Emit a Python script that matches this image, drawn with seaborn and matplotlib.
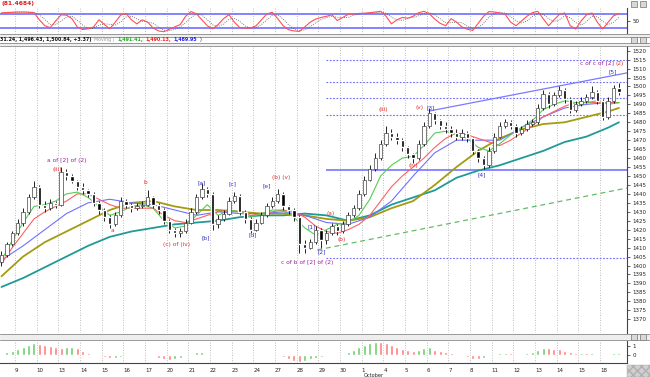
import numpy as np
import pandas as pd
import matplotlib
matplotlib.use("Agg")
import matplotlib.pyplot as plt
import seaborn as sns
from matplotlib.patches import Rectangle
from matplotlib.lines import Line2D

# trading days shown on the x axis (Sep 9 .. Oct 18), 4 bars per day
day_labels = ["9", "10", "13", "14", "15", "16", "17", "20", "21", "22", "23", "24",
              "27", "28", "29", "30", "1", "4", "5", "6", "7", "8", "11", "12",
              "13", "14", "15", "18"]
bars_per_day = 4
first_day_bar = 3

first_open = 1402
closes = [1406, 1412, 1418, 1424, 1430, 1438, 1444, 1434, 1432, 1435,
          1434, 1452, 1450, 1447, 1444, 1442, 1440, 1435, 1431, 1427,
          1423, 1428, 1436, 1434, 1432, 1433, 1434, 1438, 1434, 1431,
          1425, 1420, 1418, 1419, 1424, 1430, 1438, 1443, 1440, 1423,
          1426, 1429, 1436, 1439, 1430, 1426, 1420, 1424, 1428, 1433,
          1436, 1440, 1433, 1431, 1427, 1412, 1410, 1413, 1420, 1414,
          1418, 1422, 1419, 1423, 1428, 1432, 1440, 1448, 1454, 1460,
          1468, 1474, 1472, 1470, 1466, 1462, 1460, 1468, 1478, 1485,
          1481, 1478, 1476, 1474, 1472, 1474, 1471, 1464, 1460, 1456,
          1464, 1472, 1478, 1480, 1478, 1474, 1476, 1479, 1480, 1488,
          1496, 1490, 1495, 1498, 1493, 1487, 1490, 1492, 1494, 1497,
          1492, 1483, 1492, 1499, 1497]
highs = [1408, 1413, 1419, 1426, 1432, 1440, 1447, 1445, 1436, 1437,
         1436, 1455, 1454, 1451, 1448, 1446, 1443, 1441, 1436, 1432,
         1428, 1430, 1438, 1437, 1435, 1435, 1436, 1442, 1439, 1435,
         1432, 1426, 1421, 1421, 1426, 1432, 1440, 1446, 1444, 1441,
         1428, 1431, 1438, 1441, 1440, 1431, 1427, 1426, 1430, 1435,
         1438, 1443, 1441, 1434, 1432, 1428, 1414, 1415, 1422, 1421,
         1420, 1424, 1423, 1425, 1430, 1434, 1442, 1450, 1456, 1463,
         1470, 1478, 1476, 1474, 1471, 1467, 1463, 1470, 1480, 1488,
         1486, 1482, 1480, 1478, 1476, 1476, 1475, 1472, 1465, 1461,
         1466, 1474, 1480, 1482, 1481, 1479, 1478, 1481, 1482, 1490,
         1498, 1497, 1497, 1500, 1499, 1494, 1492, 1494, 1496, 1500,
         1498, 1493, 1494, 1501, 1502]
lows = [1400, 1405, 1411, 1417, 1422, 1429, 1437, 1432, 1430, 1431,
        1432, 1433, 1448, 1446, 1442, 1440, 1438, 1433, 1429, 1425,
        1421, 1422, 1427, 1432, 1430, 1431, 1432, 1433, 1432, 1429,
        1423, 1418, 1416, 1416, 1418, 1423, 1429, 1437, 1438, 1420,
        1421, 1425, 1428, 1435, 1428, 1424, 1418, 1419, 1423, 1427,
        1432, 1435, 1431, 1429, 1425, 1407, 1407, 1409, 1412, 1410,
        1412, 1417, 1417, 1418, 1422, 1427, 1431, 1439, 1447, 1453,
        1459, 1467, 1470, 1468, 1464, 1460, 1457, 1459, 1467, 1477,
        1479, 1476, 1474, 1472, 1470, 1470, 1469, 1462, 1458, 1454,
        1455, 1463, 1471, 1477, 1476, 1472, 1473, 1475, 1478, 1479,
        1487, 1488, 1489, 1494, 1491, 1485, 1486, 1489, 1491, 1493,
        1490, 1481, 1482, 1491, 1495]

# moving averages
fast_bars = list(range(0, 115, 2))
ma_green = [1403, 1414, 1424, 1433, 1434, 1436, 1440, 1441, 1438, 1433,
            1428, 1430, 1433, 1434, 1432, 1425, 1421, 1422, 1428, 1434,
            1428, 1431, 1430, 1427, 1429, 1431, 1431, 1427, 1421, 1417,
            1420, 1423, 1424, 1428, 1437, 1450, 1456, 1460, 1461, 1467,
            1474, 1475, 1473, 1471, 1466, 1464, 1468, 1473, 1477, 1481,
            1487, 1490, 1492, 1491, 1491, 1492, 1490, 1491]
ma_red = [1401, 1410, 1418, 1426, 1430, 1433, 1436, 1440, 1440, 1437,
          1434, 1432, 1432, 1432, 1432, 1428, 1425, 1424, 1426, 1428,
          1430, 1431, 1430, 1428, 1429, 1430, 1431, 1430, 1427, 1422,
          1419, 1418, 1420, 1423, 1428, 1436, 1444, 1450, 1455, 1460,
          1466, 1471, 1474, 1473, 1471, 1469, 1467, 1470, 1474, 1478,
          1483, 1486, 1489, 1491, 1491, 1491, 1491, 1491]
slow_bars = list(range(0, 113, 4)) + [114]
ma_blue = [1403, 1411, 1420, 1429, 1435, 1437, 1435, 1434, 1431, 1428,
           1430, 1429, 1429, 1430, 1428, 1424, 1423, 1427, 1436, 1450,
           1463, 1470, 1470, 1470, 1477, 1483, 1488, 1490, 1491, 1491]
ma_olive = [1394, 1405, 1413, 1419, 1425, 1431, 1435, 1436, 1433, 1431,
            1431, 1430, 1429, 1429, 1428, 1426, 1425, 1427, 1432, 1436,
            1445, 1455, 1464, 1471, 1476, 1479, 1480, 1483, 1486, 1488]
ma_teal = [1388, 1393, 1399, 1405, 1411, 1416, 1419, 1421, 1423, 1424,
           1425, 1427, 1428, 1428, 1429, 1428, 1425, 1428, 1434, 1438,
           1442, 1449, 1453, 1456, 1460, 1464, 1469, 1472, 1477, 1480]

# stochastic %K (top panel)
osc = [84, 86, 87, 88, 88, 87, 85, 55, 30, 22,
       50, 76, 75, 60, 25, 14, 17, 25, 55, 35,
       17, 45, 75, 82, 55, 38, 55, 45, 20, 8,
       5, 15, 25, 35, 70, 90, 80, 55, 30, 17,
       35, 60, 77, 45, 22, 20, 20, 30, 55, 80,
       87, 60, 30, 13, 8, 6, 25, 45, 58, 65,
       70, 76, 52, 65, 78, 80, 82, 83, 85, 88,
       91, 70, 38, 55, 65, 62, 70, 85, 91, 80,
       58, 40, 30, 60, 45, 25, 15, 10, 40, 70,
       90, 88, 84, 78, 45, 30, 50, 70, 85, 91,
       60, 30, 55, 78, 84, 30, 16, 50, 76, 84,
       45, 16, 45, 72, 81]

# histogram (bottom panel)
hist = [0.1, 0.3, 0.5, 0.7, 0.9, 1.1, 1.3, 1.25, 1.1, 1.0,
        0.85, 0.8, 0.85, 0.9, 0.75, 0.45, 0.2, 0.05, 0.05, -0.2,
        -0.35, -0.3, -0.2, -0.1, -0.05, 0.05, 0.0, 0.05, 0.0, -0.3,
        -0.5, -0.55, -0.5, -0.35, -0.15, 0.15, 0.3, 0.3, 0.15, 0.0,
        -0.05, 0.05, 0.15, 0.05, -0.05, 0.0, -0.1, 0.0, 0.05, 0.15,
        0.1, 0.05, -0.2, -0.45, -0.7, -0.8, -0.7, -0.5, -0.35, -0.25,
        -0.1, 0.05, 0.1, 0.15, 0.35, 0.6, 0.85, 1.1, 1.3, 1.45,
        1.4, 1.3, 1.1, 0.9, 0.7, 0.55, 0.5, 0.6, 0.8, 0.85,
        0.6, 0.4, 0.3, 0.25, 0.15, 0.05, -0.2, -0.4, -0.45, -0.3,
        -0.1, 0.1, 0.2, 0.25, 0.2, 0.1, 0.1, 0.2, 0.35, 0.55,
        0.8, 0.75, 0.7, 0.65, 0.5, 0.3, 0.2, 0.25, 0.2, 0.25,
        0.1, -0.05, 0.1, 0.2, 0.25]

# horizontal levels, trendlines
levels = [1515, 1502.7, 1493.7, 1484, 1404]
support = 1453.4
level_start = 60
channel = ([79, 115.5], [1486.3, 1507.6])
trend = ([58.3, 115.5], [1408.7, 1443.3])

# wave labels: (text, bar, price, colour, alignment)
wave_labels = [
    ("a of [2] of (2)", 12.1, 1458.4, "#a020a0", "center"),
    ("(iii)", 10.3, 1453.4, "#e03030", "center"),
    ("a", 20.4, 1419.8, "#e03030", "center"),
    ("b", 26.5, 1446.6, "#e03030", "center"),
    ("(c) of (iv)", 32.4, 1411.5, "#e03030", "center"),
    ("[a]", 37.0, 1446.1, "#3030c0", "center"),
    ("[b]", 37.8, 1415.4, "#3030c0", "center"),
    ("[c]", 42.6, 1445.5, "#3030c0", "center"),
    ("[d]", 46.3, 1417.0, "#3030c0", "center"),
    ("[e]", 49.0, 1444.6, "#3030c0", "center"),
    ("(b) (v)", 51.6, 1449.2, "#e03030", "center"),
    ("c of b of [2] of (2)", 56.4, 1401.4, "#a020a0", "center"),
    ("[1]", 57.3, 1421.5, "#3030c0", "center"),
    ("[2]", 59.2, 1407.5, "#3030c0", "center"),
    ("(a)", 60.7, 1429.3, "#e03030", "center"),
    ("(b)", 62.9, 1414.8, "#e03030", "center"),
    ("(iii)", 70.4, 1486.9, "#e03030", "center"),
    ("(iv)", 76.0, 1455.6, "#e03030", "center"),
    ("(v)", 78.0, 1488.0, "#e03030", "right"),
    ("[3]", 78.4, 1488.0, "#3030c0", "left"),
    ("[4]", 88.7, 1450.6, "#3030c0", "center"),
    ("[5]", 112.9, 1508.1, "#3030c0", "center"),
    ("c of c of [2]", 113.1, 1513.1, "#a020a0", "right"),
    ("(2)", 113.4, 1513.1, "#e03030", "left"),
]

# header line of the price window: (text, colour, bold)
header_parts = [
    ("31.24, 1,496.43, 1,500.84, +3.37)", "#111111", True),
    ("Moving (", "#999999", False),
    ("1,491.41,", "#22aa22", True),
    ("1,490.13,", "#ee2222", True),
    ("1,489.95", "#2222ee", True),
    (")", "#111111", False),
]

sns.set_style("white")
plt.rcParams['font.family'] = ['DejaVu Sans', 'Liberation Sans']

W, H = 650, 377
fig = plt.figure(figsize=(6.5, 3.77), dpi=100)


def box(x0, y0, x1, y1):
    return [x0 / W, 1 - y1 / H, (x1 - x0) / W, (y1 - y0) / H]


ax_osc = fig.add_axes(box(0, 8, 627, 34))
ax = fig.add_axes(box(0, 46, 627, 333))
ax_h = fig.add_axes(box(0, 341, 627, 363))

xlim = (-0.27, 115.48)
day_x = [first_day_bar - 0.5 + bars_per_day * i for i in range(len(day_labels))]
grid_kw = dict(color="#a8a8a8", ls=(0, (1, 2)), lw=0.6, zorder=0)

for a in (ax_osc, ax, ax_h):
    a.set_xlim(*xlim)
    for d in day_x:
        a.axvline(d, **grid_kw)
    for s in ("left", "top", "bottom"):
        a.spines[s].set_visible(False)
    a.spines["right"].set_color("#444444")
    a.spines["right"].set_linewidth(0.8)
    a.yaxis.tick_right()
    a.tick_params(axis="y", labelsize=4, length=2, width=0.5, pad=2, colors="#222222")

# ---- main price panel ----
x = np.arange(len(closes))
c = np.array(closes, dtype=float)
o = np.array([first_open] + closes[:-1], dtype=float)
up = c >= o
ax.vlines(x, lows, highs, color="black", lw=0.6, zorder=3)
ax.bar(x[up], np.maximum(c - o, 0.4)[up], bottom=o[up], width=0.62,
       facecolor="white", edgecolor="#444444", lw=0.5, zorder=4)
ax.bar(x[~up], np.maximum(o - c, 0.4)[~up], bottom=c[~up], width=0.62,
       color="black", zorder=4)

sns.lineplot(x=slow_bars, y=ma_teal, color="#1f9a9a", lw=1.3, ax=ax, zorder=2)
sns.lineplot(x=slow_bars, y=ma_olive, color="#a39c10", lw=1.3, ax=ax, zorder=2)
sns.lineplot(x=slow_bars, y=ma_blue, color="#7070ff", lw=0.8, ax=ax, zorder=2)
sns.lineplot(x=fast_bars, y=ma_red, color="#ff6060", lw=0.8, ax=ax, zorder=2)
sns.lineplot(x=fast_bars, y=ma_green, color="#55cc55", lw=0.8, ax=ax, zorder=2)

for lv in levels:
    ax.hlines(lv, level_start, xlim[1], color="#6a6aff", lw=0.8, ls=(0, (1.5, 1.5)), zorder=1)
ax.hlines(support, level_start, xlim[1], color="#6a6aff", lw=1.1, zorder=1)
ax.plot(*channel, color="#7a7aff", lw=0.9, zorder=1)
ax.plot(*trend, color="#66bb66", lw=0.9, ls=(0, (4, 3)), zorder=1)

for txt, bx, py, col, ha in wave_labels:
    ax.text(bx, py, txt, color=col, fontsize=4.2, ha=ha, va="center", zorder=6)

ax.set_ylim(1362.3, 1522.6)
ax.set_yticks(range(1370, 1521, 5))
ax.set_xticks([])
ax.set_xlabel("")
ax.set_ylabel("")

# ---- oscillator panel ----
osc_x = np.arange(len(osc))
signal = pd.Series(osc).rolling(3, min_periods=1).mean()
ax_osc.axhline(80, color="#7a7aff", lw=1.3, zorder=1)
ax_osc.axhline(20, color="#7a7aff", lw=1.3, zorder=1)
sns.lineplot(x=osc_x, y=signal.values, color="#555555", lw=0.6, ls=":", ax=ax_osc, zorder=2)
sns.lineplot(x=osc_x, y=osc, color="#ff5050", lw=0.8, ax=ax_osc, zorder=3)
ax_osc.set_ylim(-5, 105)
ax_osc.set_yticks([50])
ax_osc.set_xticks([])
ax_osc.set_xlabel("")
ax_osc.set_ylabel("")

# ---- histogram panel ----
hx = np.arange(len(hist))
hv = np.array(hist)
hcol = ["#6fcf6f" if i == 0 or hv[i] >= hv[i - 1] else "#ff8080" for i in range(len(hv))]
ax_h.bar(hx, hv, width=0.55, color=hcol, zorder=2)
ax_h.set_ylim(-0.89, 1.56)
ax_h.set_yticks([0, 1])
ax_h.set_yticklabels(["0", "1"])
ax_h.spines["bottom"].set_visible(True)
ax_h.spines["bottom"].set_color("#444444")
ax_h.set_xticks(day_x)
ax_h.set_xticklabels(day_labels, ha="left")
ax_h.tick_params(axis="x", labelsize=4, length=3, width=0.5, pad=0.5, colors="#222222")
ax_h.set_xlabel("")
ax_h.set_ylabel("")
fig.text(364 / W, 1 - 375.5 / H, "October", fontsize=3.6, ha="left", va="center", color="#222222")

# ---- window chrome ----
for y0, y1 in [(34, 37), (43, 46), (334, 340)]:
    fig.add_artist(Rectangle((0, 1 - y1 / H), 1, (y1 - y0) / H, transform=fig.transFigure,
                             facecolor="#eeeeee", edgecolor="none"))
    for yy in (y0, y1):
        fig.add_artist(Line2D([0, 1], [1 - yy / H, 1 - yy / H], transform=fig.transFigure,
                              color="#8a8a8a", lw=0.6))
for yc in (4, 40, 337):
    for xc in (634, 643):
        fig.add_artist(Rectangle(((xc - 3) / W, 1 - (yc + 3) / H), 6 / W, 6 / H,
                                 transform=fig.transFigure, facecolor="#d8d8d8",
                                 edgecolor="#555555", lw=0.4))
fig.add_artist(Rectangle((627 / W, 0), 23 / W, 12 / H, transform=fig.transFigure,
                         facecolor="#d0d0d0", edgecolor="#b0b0b0", hatch="xxxx", lw=0.3))

fig.text(2 / W, 1 - 4 / H, "(81.4684)", fontsize=4.3, color="#dd2020",
         fontweight="bold", va="center")

renderer = fig.canvas.get_renderer()
hy = 1 - 40 / H
xpos = 0.0
for txt, col, bold in header_parts:
    t = fig.text(xpos, hy, txt, fontsize=3.4, color=col, va="center",
                 fontweight="bold" if bold else "normal")
    xpos += (t.get_window_extent(renderer).width + 2.5) / W

fig.savefig("out.png", dpi=100)
